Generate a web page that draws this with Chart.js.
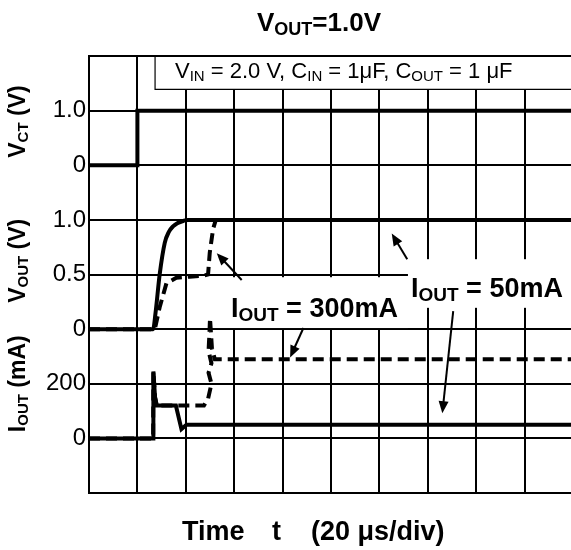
<!DOCTYPE html>
<html>
<head>
<meta charset="utf-8">
<script src="https://cdn.jsdelivr.net/npm/chart.js@4"></script>
<style>
  html, body { margin: 0; padding: 0; overflow: hidden; background: #fff; }
  canvas { display: block; }
</style>
</head>
<body>
<canvas id="scope" width="575" height="550"></canvas>
<script>
// time axis: 20 us/div, 10 divisions
const timeMax = 200;
const timeStep = 20;

// grid rows from bottom (0) to top (8); tick text per row
const yTickLabels = ['', '0', '200', '0', '0.5', '1.0', '0', '1.0', ''];

// each trace: offset row of its zero line and units per division
const vctZero = 6, vctPerDiv = 1.0;
const voutZero = 3, voutPerDiv = 0.5;
const ioutZero = 1, ioutPerDiv = 200;

// V_CT (V)
const vctTime = [0, 20, 20, 200];
const vctVolts = [0, 0, 1.0, 1.0];

// V_OUT (V), I_OUT = 50mA
const vout50Time = [0, 26.5, 27.5, 29.2, 31.3, 33.0, 34.7, 36.5, 38.9, 40.8, 200];
const vout50Volts = [0, 0, 0.15, 0.5, 0.79, 0.89, 0.94, 0.97, 0.99, 1.0, 1.0];

// V_OUT (V), I_OUT = 300mA
const vout300Time = [0, 27.2, 29.2, 32.0, 36.1, 41.6, 47.5, 49.2, 49.9, 51.3, 52.4, 200];
const vout300Volts = [0, 0, 0.2, 0.42, 0.47, 0.48, 0.49, 0.5, 0.7, 0.92, 1.0, 1.0];

// I_OUT (mA), 50mA load
const iout50Time = [0, 26.5, 26.6, 27.3, 28.0, 35.9, 38.2, 40.3, 200];
const iout50mA = [0, 0, 245, 150, 120, 120, 34, 50, 50];

// I_OUT (mA), 300mA load
const iout300Time = [0, 26.5, 26.6, 27.3, 28.0, 47.5, 49.2, 50.6, 49.4, 50.6, 49.4, 49.8, 50.0, 50.8, 52.0, 56.8, 200];
const iout300mA = [0, 0, 245, 150, 120, 120, 145, 200, 240, 275, 320, 390, 440, 330, 290, 290, 290];

function toRows(times, vals, zero, perDiv) {
  return times.map((t, i) => ({ x: t, y: zero + vals[i] / perDiv }));
}

const FONT = '"Liberation Sans", Arial, Helvetica, sans-serif';
Chart.defaults.font.family = FONT;
Chart.defaults.color = '#000';

// draw a run of [text, size, sub] pieces starting at x (or centred)
function richText(c, parts, x, y, bold, align) {
  const w = parts.map(p => { c.font = (bold ? 'bold ' : '') + p[1] + 'px ' + FONT; return c.measureText(p[0]).width; });
  const total = w.reduce((a, b) => a + b, 0);
  let cx = align === 'center' ? x - total / 2 : x;
  parts.forEach((p, i) => {
    c.font = (bold ? 'bold ' : '') + p[1] + 'px ' + FONT;
    c.fillText(p[0], cx, y + (p[2] ? p[1] * 0.22 : 0));
    cx += w[i];
  });
}

function arrow(c, x1, y1, x2, y2) {
  const a = Math.atan2(y2 - y1, x2 - x1), L = 12, W = 5;
  c.beginPath();
  c.moveTo(x1, y1);
  c.lineTo(x2 - L * 0.8 * Math.cos(a), y2 - L * 0.8 * Math.sin(a));
  c.stroke();
  c.beginPath();
  c.moveTo(x2, y2);
  c.lineTo(x2 - L * Math.cos(a) + W * Math.sin(a), y2 - L * Math.sin(a) - W * Math.cos(a));
  c.lineTo(x2 - L * Math.cos(a) - W * Math.sin(a), y2 - L * Math.sin(a) + W * Math.cos(a));
  c.closePath();
  c.fill();
}

const overlay = {
  id: 'overlay',
  beforeDatasetsDraw(chart) {
    const c = chart.ctx, xs = chart.scales.x, ys = chart.scales.y;
    c.save();
    c.fillStyle = '#fff';
    c.strokeStyle = '#000';
    c.lineWidth = 1.2;
    // condition box
    const bx = xs.getPixelForValue(27.3), by = ys.getPixelForValue(7.39);
    const top = chart.chartArea.top;
    c.fillRect(bx, top + 1, 600, by - top - 1);
    c.beginPath();
    c.moveTo(bx, top); c.lineTo(bx, by); c.lineTo(600, by);
    c.stroke();
    // label backgrounds
    const r1 = [50.8, 131.8, 3.02, 3.95], r2 = [131.8, 210, 3.39, 4.28];
    [r1, r2].forEach(r => {
      const x1 = xs.getPixelForValue(r[0]), x2 = xs.getPixelForValue(r[1]);
      const y1 = ys.getPixelForValue(r[3]), y2 = ys.getPixelForValue(r[2]);
      c.fillRect(x1, y1, x2 - x1, y2 - y1);
    });
    c.restore();
  },
  afterDatasetsDraw(chart) {
    const c = chart.ctx, xs = chart.scales.x, ys = chart.scales.y;
    c.save();
    c.strokeStyle = '#000';
    c.fillStyle = '#000';
    c.lineWidth = 2;
    const arrows = [
      [63.1, 3.90, 52.8, 4.39],
      [88.6, 3.02, 83.1, 2.48],
      [131.5, 4.28, 125.1, 4.75],
      [150.5, 3.33, 146.0, 1.46]
    ];
    arrows.forEach(a => arrow(c, xs.getPixelForValue(a[0]), ys.getPixelForValue(a[1]),
      xs.getPixelForValue(a[2]), ys.getPixelForValue(a[3])));

    c.textBaseline = 'alphabetic';
    // condition text
    richText(c, [['V', 22], ['IN', 15, 1], [' = 2.0 V, C', 22], ['IN', 15, 1], [' = 1\u03bcF, C', 22],
      ['OUT', 15, 1], [' = 1 \u03bcF', 22]], 175, 78, false, 'left');
    // load labels
    richText(c, [['I', 27], ['OUT', 19, 1], [' = 300mA', 27]], 231, 317, true, 'left');
    richText(c, [['I', 27], ['OUT', 19, 1], [' = 50mA', 27]], 411, 297, true, 'left');
    c.restore();
  },
  afterDraw(chart) {
    const c = chart.ctx, ys = chart.scales.y;
    c.save();
    c.fillStyle = '#000';
    c.textBaseline = 'alphabetic';
    // title
    richText(c, [['V', 26], ['OUT', 18, 1], ['=1.0V', 26]], 319, 31, true, 'center');
    // x axis title
    c.font = 'bold 27px ' + FONT;
    c.fillText('Time', 182, 540);
    c.fillText('t', 272, 540);
    c.fillText('(20 \u03bcs/div)', 311, 540);
    // y axis titles, rotated
    const yt = [
      [[['V', 23], ['CT', 15, 1], [' (V)', 23]], 6.8],
      [[['V', 23], ['OUT', 15, 1], [' (V)', 23]], 4.25],
      [[['I', 23], ['OUT', 15, 1], [' (mA)', 23]], 2.0]
    ];
    yt.forEach(t => {
      c.save();
      c.translate(25, ys.getPixelForValue(t[1]));
      c.rotate(-Math.PI / 2);
      richText(c, t[0], 0, 0, true, 'center');
      c.restore();
    });
    c.restore();
  }
};

const traceStyle = { borderColor: '#000', borderWidth: 4, pointRadius: 0, tension: 0, fill: false, borderCapStyle: 'butt' };

new Chart(document.getElementById('scope'), {
  type: 'line',
  data: {
    datasets: [
      Object.assign({ data: toRows(vctTime, vctVolts, vctZero, vctPerDiv) }, traceStyle),
      Object.assign({ data: toRows(vout300Time, vout300Volts, voutZero, voutPerDiv), borderDash: [11, 6] }, traceStyle),
      Object.assign({ data: toRows(vout50Time, vout50Volts, voutZero, voutPerDiv), cubicInterpolationMode: 'monotone' }, traceStyle),
      Object.assign({ data: toRows(iout300Time, iout300mA, ioutZero, ioutPerDiv), borderDash: [11, 6] }, traceStyle),
      Object.assign({ data: toRows(iout50Time, iout50mA, ioutZero, ioutPerDiv) }, traceStyle)
    ]
  },
  options: {
    responsive: false,
    animation: false,
    layout: { padding: { left: 0, right: 2, top: 56, bottom: 57 } },
    plugins: { legend: { display: false }, tooltip: { enabled: false } },
    scales: {
      x: {
        type: 'linear', min: 0, max: timeMax,
        ticks: { display: false, stepSize: timeStep },
        grid: { color: '#000', lineWidth: 2, drawTicks: false },
        border: { color: '#000', width: 2 },
        afterFit: s => { s.height = 0; }
      },
      y: {
        min: 0, max: 8,
        ticks: { stepSize: 1, padding: 3, font: { size: 24 }, color: '#000',
          callback: v => yTickLabels[v] },
        grid: { color: '#000', lineWidth: 2, drawTicks: false },
        border: { color: '#000', width: 2 },
        afterFit: s => { s.width = 89; }
      }
    }
  },
  plugins: [overlay]
});
</script>
</body>
</html>
